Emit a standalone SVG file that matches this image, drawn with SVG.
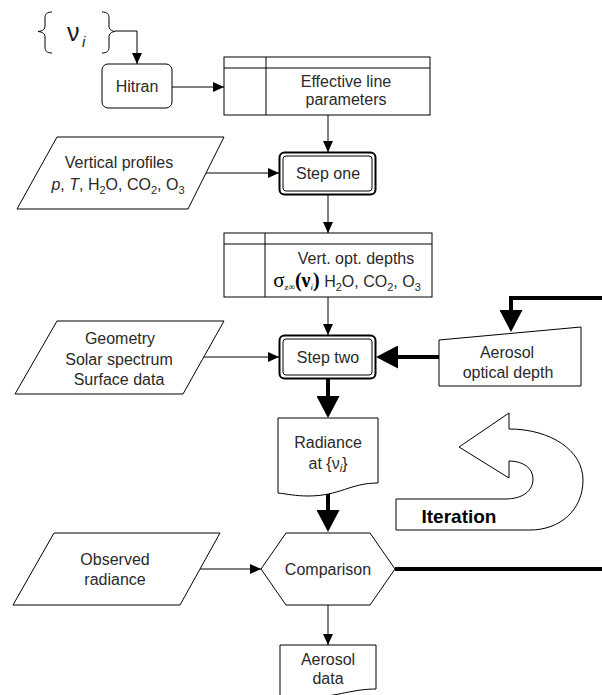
<svg xmlns="http://www.w3.org/2000/svg" width="602" height="695" viewBox="0 0 602 695">
<style>
.t{font-family:"Liberation Sans",Arial,sans-serif;font-size:16px;fill:#2a2a2a;text-anchor:middle}
.s{fill:#fff;stroke:#000;stroke-width:1}
.thin{fill:none;stroke:#000;stroke-width:1;marker-end:url(#a)}
.thick{fill:none;stroke:#000;stroke-width:4}
.thk{marker-end:url(#b)}
.sub{font-size:11px}
.sym{font-family:"Liberation Serif","Times New Roman",serif}
</style>
<defs>
<marker id="a" markerUnits="userSpaceOnUse" markerWidth="11" markerHeight="10" refX="11" refY="5" orient="auto"><path d="M0,0L11,5L0,10z" fill="#000"/></marker>
<marker id="b" markerUnits="userSpaceOnUse" markerWidth="22" markerHeight="23" refX="10" refY="11.5" orient="auto"><path d="M0,0L22,11.5L0,23z" fill="#000"/></marker>
</defs>
<rect width="602" height="695" fill="#fff"/>

<g id="connectors">
<path class="thin" d="M115,31H137V64"/>
<path class="thin" d="M172,87H224"/>
<path class="thin" d="M328,115V152"/>
<path class="thin" d="M205,173H279"/>
<path class="thin" d="M328,195V233"/>
<path class="thin" d="M328,297V335"/>
<path class="thin" d="M204,357H279"/>
<path class="thick thk" d="M439,357H388"/>
<path class="thick thk" d="M602,298H511V320"/>
<path class="thick thk" d="M328,379V406"/>
<path class="thick thk" d="M328,493V520"/>
<path class="thin" d="M200,569H261"/>
<path class="thick" d="M395,569H602"/>
<path class="thin" d="M328,605V645"/>
</g>

<g id="nu">
<path d="M52,12C47,12 45,14 45,18V26C45,29 43,31 38,31.5C43,32 45,34 45,37V47C45,51 47,53 52,53" fill="none" stroke="#000"/>
<path d="M102,12C107,12 109,14 109,18V26C109,29 111,31 115,31.5C111,32 109,34 109,37V47C109,51 107,53 102,53" fill="none" stroke="#000"/>
<text x="67" y="41" style="font-family:'Liberation Sans',Arial,sans-serif;font-size:25px;fill:#1a1a1a">ν</text>
<text x="82" y="47" style="font-family:'Liberation Sans',Arial,sans-serif;font-size:15px;font-style:italic;fill:#1a1a1a">i</text>
</g>

<g id="hitran">
<rect class="s" x="102" y="64" width="70" height="44" rx="6"/>
<text class="t" x="137" y="92">Hitran</text>
</g>

<g id="effective">
<rect class="s" x="224" y="57" width="206" height="58"/>
<path d="M224,68H430M266,57V115" stroke="#000" fill="none"/>
<text class="t" x="346" y="87">Effective line</text>
<text class="t" x="346" y="105">parameters</text>
</g>

<g id="profiles">
<path class="s" d="M57,137H224L188,209H17z"/>
<text class="t" x="119" y="168">Vertical profiles</text>
<text class="t" x="118" y="190"><tspan font-style="italic">p</tspan>, <tspan font-style="italic">T</tspan>, H<tspan class="sub" dy="4">2</tspan><tspan dy="-4">O, CO</tspan><tspan class="sub" dy="4">2</tspan><tspan dy="-4">, O</tspan><tspan class="sub" dy="4">3</tspan></text>
</g>

<g id="step1">
<rect x="279.5" y="152.5" width="96" height="42" rx="5" fill="#fff" stroke="#000" stroke-width="2"/>
<rect x="283" y="156" width="89" height="35" rx="3" fill="none" stroke="#000"/>
<text class="t" x="328" y="179">Step one</text>
</g>

<g id="depths">
<rect class="s" x="224" y="233" width="208" height="64"/>
<path d="M224,244H432M265,233V297" stroke="#000" fill="none"/>
<text class="t" x="356" y="264">Vert. opt. depths</text>
<text class="t" x="347" y="287"><tspan class="sym" font-size="21" fill="#000">σ</tspan><tspan class="sym" font-size="9" fill="#000" dy="3">z∞</tspan><tspan class="sym" font-size="20" font-weight="bold" fill="#000" dy="-3">(ν</tspan><tspan class="sym" font-size="9" font-style="italic" fill="#000" dy="3">i</tspan><tspan class="sym" font-size="20" font-weight="bold" fill="#000" dy="-3">)</tspan> H<tspan class="sub" dy="4">2</tspan><tspan dy="-4">O, CO</tspan><tspan class="sub" dy="4">2</tspan><tspan dy="-4">, O</tspan><tspan class="sub" dy="4">3</tspan></text>
</g>

<g id="geometry">
<path class="s" d="M57,321H224L183,394H15z"/>
<text class="t" x="120" y="344">Geometry</text>
<text class="t" x="119" y="365">Solar spectrum</text>
<text class="t" x="119" y="385">Surface data</text>
</g>

<g id="step2">
<rect x="279.5" y="335.5" width="96" height="43" rx="5" fill="#fff" stroke="#000" stroke-width="2"/>
<rect x="283" y="339" width="89" height="36" rx="3" fill="none" stroke="#000"/>
<text class="t" x="328" y="363">Step two</text>
</g>

<g id="aod">
<path class="s" d="M439,340L581,327V386H439z"/>
<text class="t" x="507" y="358">Aerosol</text>
<text class="t" x="508" y="378">optical depth</text>
</g>

<g id="radiance">
<path class="s" d="M278,418H378V483C350,483 340,496 308,496C296,496 287,494 278,493z"/>
<text class="t" x="328" y="448">Radiance</text>
<text class="t" x="328" y="469">at {ν<tspan class="sub" font-style="italic" dy="3">i</tspan><tspan dy="-3">}</tspan></text>
</g>

<g id="iteration">
<path class="s" d="M396,499H505C524,499 533,490 533,479C533,468 523,461 509,461V478L459,447L509,413V429C550,429 583,450 583,480C583,510 560,530 530,530H396z"/>
<text x="459" y="523" style="font-family:'Liberation Sans',Arial,sans-serif;font-size:19px;font-weight:bold;fill:#000;text-anchor:middle">Iteration</text>
</g>

<g id="observed">
<path class="s" d="M54,533H220L180,605H13z"/>
<text class="t" x="115" y="565">Observed</text>
<text class="t" x="115" y="585">radiance</text>
</g>

<g id="comparison">
<path class="s" d="M261,569L286,533H370L395,569L370,605H286z"/>
<text class="t" x="328" y="575">Comparison</text>
</g>

<g id="aerosoldata">
<path class="s" d="M280,645H376V689C350,689 335,698 300,698H280z"/>
<text class="t" x="328" y="665">Aerosol</text>
<text class="t" x="328" y="684">data</text>
</g>
</svg>
